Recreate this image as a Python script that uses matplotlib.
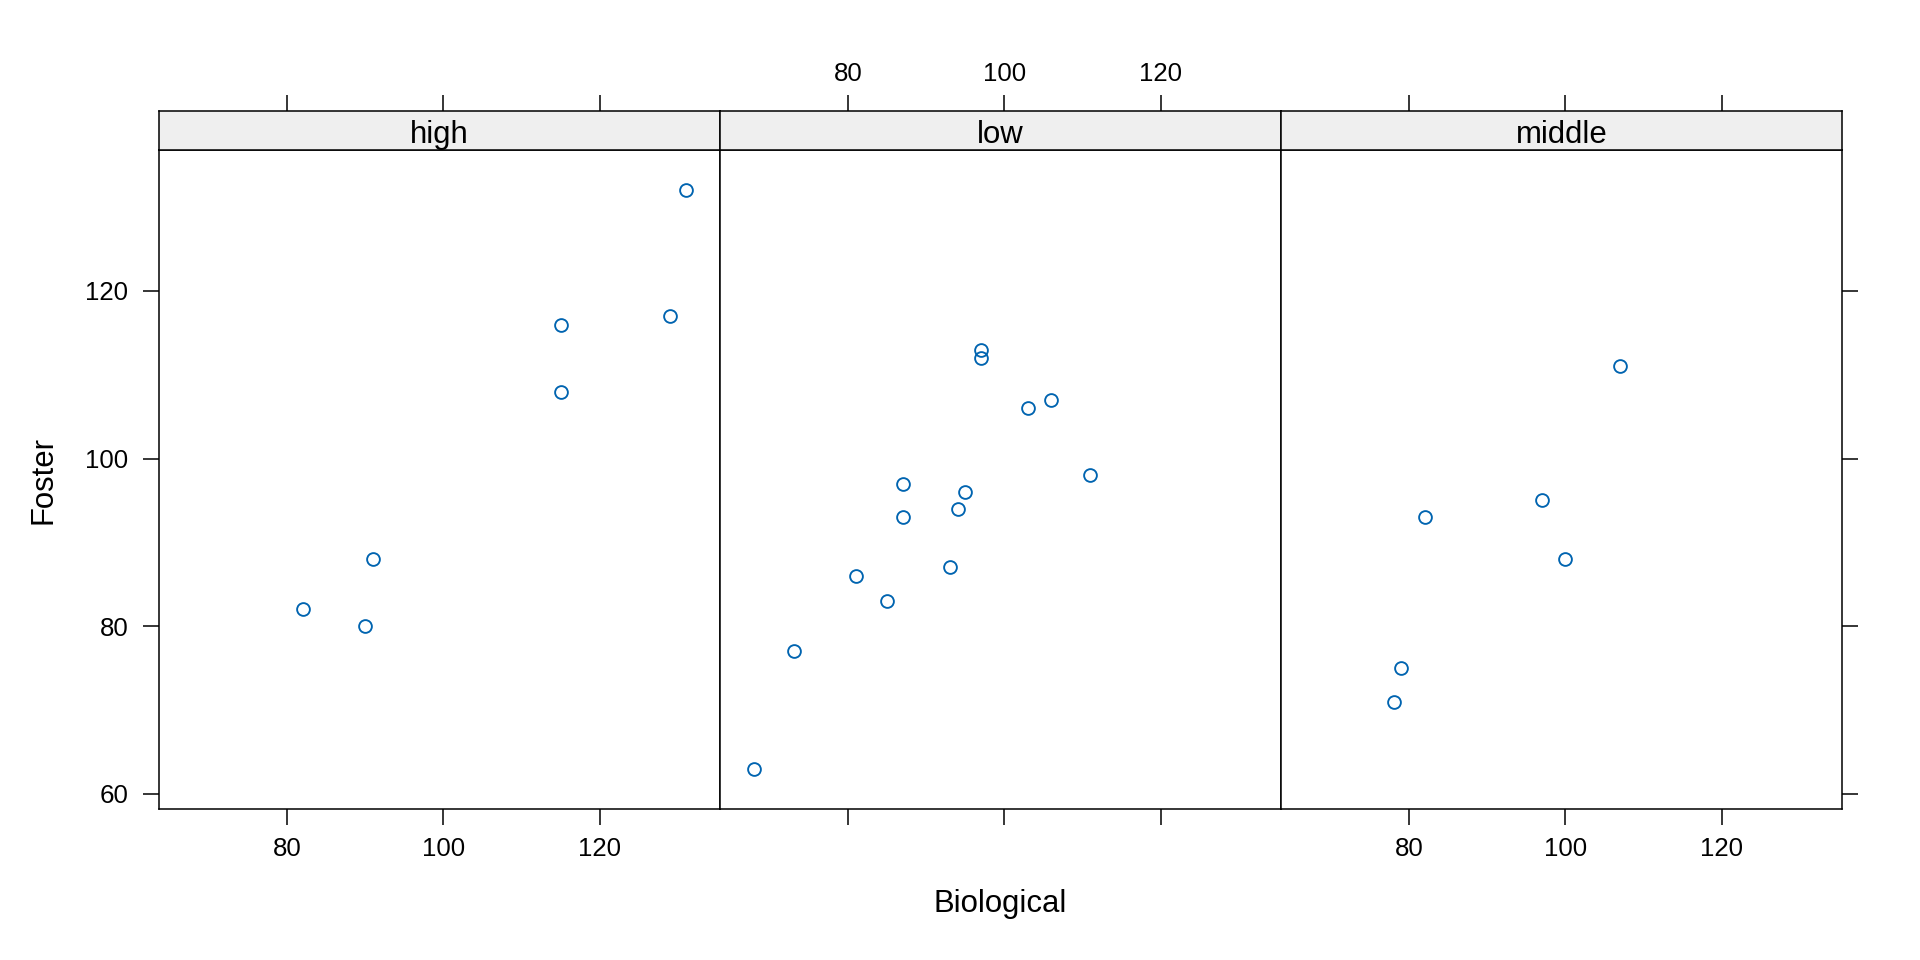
import matplotlib
matplotlib.use("Agg")
import matplotlib.pyplot as plt

# Data (Burt's twins): Foster vs Biological IQ by social class
panels = ["high", "low", "middle"]
biological = {
    "high":   [82, 90, 91, 115, 115, 129, 131],
    "low":    [68, 73, 81, 85, 87, 87, 93, 94, 95, 97, 97, 103, 106, 111],
    "middle": [78, 79, 82, 97, 100, 107],
}
foster = {
    "high":   [82, 80, 88, 108, 116, 117, 132],
    "low":    [63, 77, 86, 83, 93, 97, 87, 94, 96, 112, 113, 106, 107, 98],
    "middle": [71, 75, 93, 95, 88, 111],
}
x_ticks = [80, 100, 120]
y_ticks = [60, 80, 100, 120]

plt.rcParams['font.family'] = ['Liberation Sans', 'DejaVu Sans']

W, H = 1920, 960
fig = plt.figure(figsize=(W / 100, H / 100), dpi=100)

allx = [v for k in panels for v in biological[k]]
ally = [v for k in panels for v in foster[k]]
px = (max(allx) - min(allx)) * 0.07
py = (max(ally) - min(ally)) * 0.07
xlim = (min(allx) - px, max(allx) + px)
ylim = (min(ally) - py, max(ally) + py)

left, right = 159, 1842
pw = (right - left) / 3
ptop, pbot = 150, 809
stop = 111

tick_fs = 18.6
lab_fs = 22.4
lw = 1.1
tlen = 11.5
col = "#0064b0"

for i, key in enumerate(panels):
    x0 = left + i * pw
    ax = fig.add_axes([x0 / W, 1 - pbot / H, pw / W, (pbot - ptop) / H])
    sax = fig.add_axes([x0 / W, 1 - ptop / H, pw / W, (ptop - stop) / H])
    ax.plot(biological[key], foster[key], linestyle='none', marker='o',
            markersize=9.2, markerfacecolor='none', markeredgecolor=col,
            markeredgewidth=1.35)
    ax.set_xlim(xlim)
    ax.set_ylim(ylim)
    sax.set_xlim(xlim)
    sax.set_ylim(0, 1)
    for a in (ax, sax):
        for s in a.spines.values():
            s.set_linewidth(lw)
    sax.set_facecolor("#efefef")
    sax.text(0.5, 0.18, key, transform=sax.transAxes, ha='center',
             va='baseline', fontsize=lab_fs)
    sax.set_yticks([])

    ax.set_xticks(x_ticks)
    sax.set_xticks(x_ticks)
    ax.tick_params(axis='x', direction='out', length=tlen, width=lw,
                   labelsize=tick_fs, pad=8.5, top=False)
    sax.tick_params(axis='x', direction='out', length=tlen, width=lw,
                    labelsize=tick_fs, pad=6.5, top=True, bottom=False,
                    labelbottom=False)
    if i == 1:
        ax.tick_params(axis='x', labelbottom=False)
        sax.tick_params(axis='x', labeltop=True)
    else:
        sax.tick_params(axis='x', labeltop=False)

    ax.set_yticks(y_ticks)
    ax.tick_params(axis='y', direction='out', length=tlen, width=lw,
                   labelsize=tick_fs, pad=10.5)
    if i == 0:
        ax.tick_params(axis='y', left=True, labelleft=True, right=False)
    elif i == 2:
        ax.tick_params(axis='y', left=False, labelleft=False, right=True,
                       labelright=False)
    else:
        ax.tick_params(axis='y', left=False, labelleft=False)

fig.text(1000 / W, 1 - 912 / H, "Biological", ha='center', va='baseline',
         fontsize=lab_fs)
fig.text(43 / W, 1 - 479.5 / H, "Foster", ha='center', va='center',
         rotation=90, fontsize=lab_fs)

fig.savefig("out.png", dpi=100)
